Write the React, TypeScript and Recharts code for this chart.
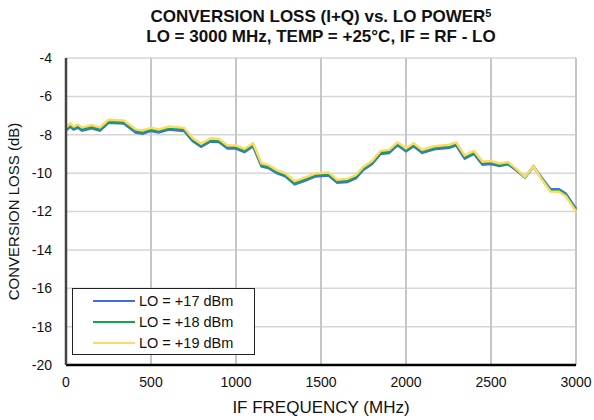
import React from "react";
import { LineChart, Line, XAxis, YAxis, CartesianGrid } from "recharts";

const FONT = "'Liberation Sans', Arial, sans-serif";

const freqs = [0, 25, 45, 70, 95, 150, 200, 250, 340, 410, 450, 500, 545, 605, 695, 745, 795, 850, 900, 950, 1000, 1050, 1100, 1150, 1190, 1240, 1290, 1345, 1400, 1465, 1545, 1595, 1655, 1705, 1750, 1800, 1850, 1900, 1950, 2000, 2045, 2095, 2165, 2255, 2295, 2345, 2400, 2450, 2500, 2550, 2600, 2645, 2700, 2750, 2800, 2850, 2900, 2940, 3000];

const lo17 = [-7.78, -7.58, -7.73, -7.63, -7.78, -7.66, -7.78, -7.38, -7.42, -7.88, -7.94, -7.8, -7.88, -7.73, -7.8, -8.33, -8.63, -8.35, -8.38, -8.72, -8.72, -8.9, -8.6, -9.65, -9.73, -10.0, -10.17, -10.58, -10.41, -10.18, -10.13, -10.5, -10.46, -10.26, -9.82, -9.53, -9.0, -8.95, -8.55, -8.86, -8.6, -8.95, -8.76, -8.68, -8.55, -9.24, -9.0, -9.56, -9.53, -9.63, -9.54, -9.83, -10.23, -9.66, -10.27, -10.84, -10.84, -11.07, -11.85];
const lo18 = [-7.7, -7.5, -7.65, -7.55, -7.7, -7.58, -7.7, -7.3, -7.34, -7.8, -7.86, -7.72, -7.8, -7.65, -7.72, -8.25, -8.55, -8.27, -8.3, -8.64, -8.64, -8.82, -8.52, -9.57, -9.65, -9.92, -10.09, -10.5, -10.33, -10.1, -10.05, -10.42, -10.38, -10.18, -9.74, -9.45, -8.92, -8.87, -8.47, -8.78, -8.52, -8.87, -8.68, -8.6, -8.47, -9.16, -8.92, -9.48, -9.45, -9.57, -9.48, -9.79, -10.21, -9.65, -10.31, -10.9, -10.9, -11.15, -11.92];
const lo19 = [-7.62, -7.42, -7.57, -7.47, -7.62, -7.5, -7.62, -7.22, -7.26, -7.72, -7.78, -7.64, -7.72, -7.57, -7.64, -8.17, -8.47, -8.19, -8.22, -8.56, -8.56, -8.74, -8.44, -9.49, -9.57, -9.84, -10.01, -10.42, -10.25, -10.02, -9.97, -10.34, -10.3, -10.1, -9.66, -9.37, -8.84, -8.79, -8.39, -8.7, -8.44, -8.79, -8.6, -8.52, -8.39, -9.08, -8.84, -9.4, -9.37, -9.5, -9.42, -9.75, -10.2, -9.64, -10.35, -10.96, -10.97, -11.2, -12.0];

const xTicks = [0, 500, 1000, 1500, 2000, 2500, 3000];
const yTicks = [-20, -18, -16, -14, -12, -10, -8, -6, -4];

const series = [
  { key: "lo17", name: "LO = +17 dBm", color: "#3f6fe6" },
  { key: "lo18", name: "LO = +18 dBm", color: "#12a64b" },
  { key: "lo19", name: "LO = +19 dBm", color: "#ffd866" },
];

const data = freqs.map((f, i) => ({ f, lo17: lo17[i], lo18: lo18[i], lo19: lo19[i] }));

function LegendBox() {
  return (
    <div style={{ position: "absolute", left: 72, top: 288, border: "1.5px solid #222", background: "#fff", width: 183, height: 67, boxSizing: "border-box", paddingTop: 1 }}>
      {series.map((s) => (
        <div key={s.key} style={{ display: "flex", alignItems: "center", height: 21, fontFamily: FONT, fontSize: 14.5, color: "#111" }}>
          <span style={{ display: "inline-block", width: 42, height: 2, background: s.color, marginLeft: 20, marginRight: 4 }} />
          <span>{s.name}</span>
        </div>
      ))}
    </div>
  );
}

export default function App() {
  return (
    <div style={{ position: "relative", width: 594, height: 420, background: "#fff" }}>
      <style>{"body{margin:0}"}</style>
      <div style={{ position: "absolute", top: 7, left: 66, width: 510, textAlign: "center", fontFamily: FONT, fontWeight: "bold", fontSize: 17, lineHeight: "20px", color: "#111" }}>
        CONVERSION LOSS (I+Q) vs. LO POWER<sup style={{ fontSize: 11, verticalAlign: "top", lineHeight: "12px" }}>5</sup>
        <br />
        LO = 3000 MHz, TEMP = +25°C, IF = RF - LO
      </div>
      <LineChart width={594} height={420} data={data} margin={{ top: 58, right: 18, bottom: 25, left: 0 }}>
        <CartesianGrid stroke="#d6d6d6" strokeWidth={1.5} vertical={false} />
        <CartesianGrid stroke="#c6c6c6" strokeWidth={2} horizontal={false} />
        <XAxis
          dataKey="f"
          type="number"
          domain={[0, 3000]}
          ticks={xTicks}
          tickLine={false}
          axisLine={{ stroke: "#000", strokeWidth: 2.5 }}
          tick={{ fontFamily: FONT, fontSize: 14, fill: "#111" }}
          tickMargin={6}
          height={30}
          label={{ value: "IF FREQUENCY (MHz)", position: "insideBottom", offset: -18, fontFamily: FONT, fontSize: 17, fill: "#111" }}
        />
        <XAxis xAxisId="top" orientation="top" type="number" domain={[0, 3000]} tick={false} tickLine={false} height={0} axisLine={{ stroke: "#333", strokeWidth: 1.5 }} />
        <YAxis
          type="number"
          domain={[-20, -4]}
          ticks={yTicks}
          tickLine={false}
          axisLine={{ stroke: "#444", strokeWidth: 2.5 }}
          tick={{ fontFamily: FONT, fontSize: 14, fill: "#111" }}
          tickMargin={8}
          width={66}
          label={{ value: "CONVERSION LOSS (dB)", angle: -90, position: "insideLeft", offset: 14, fontFamily: FONT, fontSize: 15, fill: "#111", style: { textAnchor: "middle" } }}
        />
        <YAxis yAxisId="right" orientation="right" domain={[-20, -4]} tick={false} tickLine={false} width={0} axisLine={{ stroke: "#000", strokeWidth: 3 }} />
        {series.map((s) => (
          <Line key={s.key} dataKey={s.key} name={s.name} stroke={s.color} strokeWidth={2.5} dot={false} isAnimationActive={false} type="linear" />
        ))}
      </LineChart>
      <LegendBox />
    </div>
  );
}
